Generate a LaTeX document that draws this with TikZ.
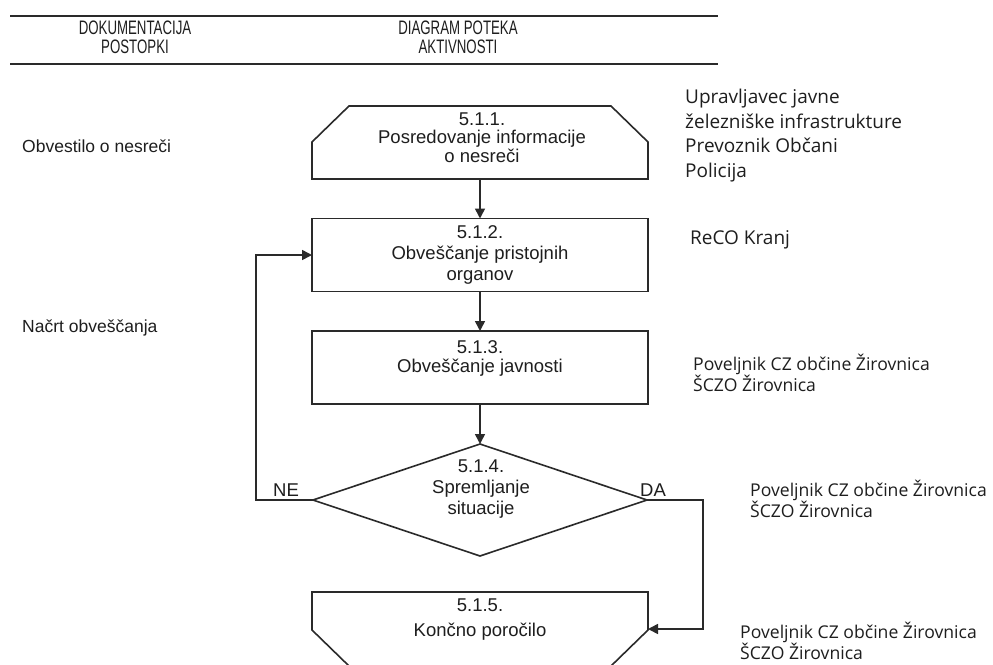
\documentclass[tikz,border=0pt]{standalone}
\usepackage{fontspec}
\setmainfont{Liberation Sans}
\newfontfamily\narrowf[FakeStretch=0.68]{Liberation Sans}
\newfontfamily\rightf{Open Sans}
\usetikzlibrary{arrows.meta,shapes.geometric}
\definecolor{linec}{HTML}{2A2A2A}
\definecolor{txtc}{HTML}{1E1E1E}
\tikzset{
  flow/.style={draw=linec, line width=1.6pt, line join=miter},
  shapebox/.style={rectangle, minimum width=336pt, minimum height=73pt, inner sep=0pt, outer sep=0pt},
  boxr/.style={shapebox, draw=linec, line width=1.6pt},
  dia/.style={diamond, draw=linec, line width=1.6pt, minimum width=334pt, minimum height=112pt, inner sep=0pt, outer sep=0pt},
  arr/.style={draw=linec, line width=1.6pt, -{Triangle[length=10pt,width=10pt]}},
  ptxt/.style={text=txtc, inner sep=0pt, align=center, font=\fontsize{18.5}{20}\selectfont},
  hd/.style={text=txtc, inner sep=0pt, align=center, font=\narrowf\fontsize{19.5}{18.5}\selectfont},
  lt/.style={text=txtc, inner sep=0pt, anchor=west, font=\fontsize{17.5}{20}\selectfont},
  rtbig/.style={text=txtc, inner sep=0pt, anchor=west, align=left, font=\rightf\fontsize{19}{24.5}\selectfont},
  rtsm/.style={text=txtc, inner sep=0pt, anchor=west, align=left, font=\rightf\fontsize{17.6}{21}\selectfont},
  hrule/.style={draw=linec, line width=1.7pt},
}
\begin{document}
\begin{tikzpicture}[x=1pt,y=-1pt]
\useasboundingbox (0,0) rectangle (993,664);
\clip (0,0) rectangle (993,664);
\fill[white] (0,0) rectangle (993,664);

% header
\draw[hrule] (10,16) -- (718,16);
\draw[hrule] (10,64) -- (718,64);
\node[hd] (h1) at (135,37.5) {DOKUMENTACIJA\\POSTOPKI};
\node[hd] (h2) at (458,37.5) {DIAGRAM POTEKA\\AKTIVNOSTI};

% 5.1.1
\node[shapebox] (b1) at (480,142.5) {};
\draw[flow] ([xshift=37pt]b1.north west) -- ([xshift=-37pt]b1.north east)
  -- ([yshift=-36pt]b1.north east) -- (b1.south east) -- (b1.south west)
  -- ([yshift=-36pt]b1.north west) -- cycle;
\node[ptxt, font=\fontsize{18.5}{18.5}\selectfont] (t1) at (482,137.5) {5.1.1.\\Posredovanje informacije\\o nesreči};

% 5.1.2
\node[boxr, ptxt, font=\fontsize{18.5}{21}\selectfont] (b2) at (480,255) {5.1.2.\\Obveščanje pristojnih\\organov};

% 5.1.3
\node[boxr] (b3) at (480,367.5) {};
\node[ptxt, font=\fontsize{18.5}{19}\selectfont] (t3) at (480,358.5) {5.1.3.\\Obveščanje javnosti};

% 5.1.4
\node[dia] (b4) at (480,500) {};
\node[ptxt, font=\fontsize{18.5}{21}\selectfont] (t4) at (481,489) {5.1.4.\\Spremljanje\\situacije};

% 5.1.5
\node[shapebox, minimum height=74pt] (b5) at (480,629) {};
\draw[flow] (b5.north west) -- (b5.north east) -- ([yshift=36pt]b5.south east)
  -- ([xshift=-37pt]b5.south east) -- ([xshift=37pt]b5.south west)
  -- ([yshift=36pt]b5.south west) -- cycle;
\node[ptxt, font=\fontsize{18.5}{25}\selectfont] (t5) at (480,619.5) {5.1.5.\\Končno poročilo};

% connectors
\draw[arr] (b1.south) -- (b2.north);
\draw[arr] (b2.south) -- (b3.north);
\draw[arr] (b3.south) -- (b4.north);
\draw[arr] (b4.west) -- ++(-57,0) |- (b2.west);
\draw[arr] (b4.east) -- ++(56,0) |- (b5.east);

\node[ptxt] (ne) at (286,490) {NE};
\node[ptxt] (da) at (653,490) {DA};

% left column
\node[lt] (l1) at (22,146) {Obvestilo o nesreči};
\node[lt] (l2) at (22,328) {Načrt obveščanja};

% right column
\node[rtbig] (r1) at (685,135.5) {Upravljavec javne\\železniške infrastrukture\\Prevoznik Občani\\Policija};
\node[rtbig] (r2) at (690,240) {ReCO Kranj};
\node[rtsm] (r3) at (693,372.5) {Poveljnik CZ občine Žirovnica\\ŠCZO Žirovnica};
\node[rtsm] (r4) at (750,498.5) {Poveljnik CZ občine Žirovnica\\ŠCZO Žirovnica};
\node[rtsm] (r5) at (740,641) {Poveljnik CZ občine Žirovnica\\ŠCZO Žirovnica};
\end{tikzpicture}
\end{document}
